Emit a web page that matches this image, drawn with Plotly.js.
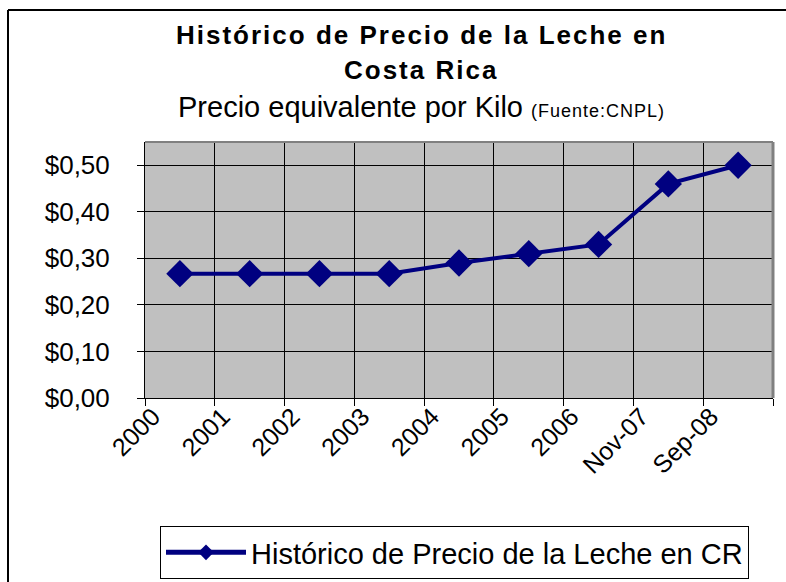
<!DOCTYPE html>
<html>
<head>
<meta charset="utf-8">
<script src="https://cdn.plot.ly/plotly-3.0.1.min.js"></script>
<style>
  html, body { margin: 0; padding: 0; background: #fff; }
  #chart { width: 786px; height: 582px; }
  .annotation-text tspan[style*="bold"] { letter-spacing: 2px; }
  .annotation-text tspan[style*="font-size:18px"] { letter-spacing: 1px; }
</style>
</head>
<body>
<div id="chart"></div>
<script>
const categories = ["2000", "2001", "2002", "2003", "2004", "2005", "2006", "Nov-07", "Sep-08"];
const precio = [0.267, 0.267, 0.267, 0.267, 0.29, 0.31, 0.33, 0.46, 0.50];
const seriesName = "Histórico de Precio de la Leche en CR";
const yTicks = [0, 0.1, 0.2, 0.3, 0.4, 0.5];
const yTickLabels = ["$0,00", "$0,10", "$0,20", "$0,30", "$0,40", "$0,50"];
const titleLine1 = "Histórico de Precio de la Leche en";
const titleLine2 = "Costa Rica";
const subtitle = "Precio equivalente por Kilo";
const source = "(Fuente:CNPL)";

const trace = {
  type: "scatter",
  mode: "lines+markers",
  x: categories,
  y: precio,
  name: seriesName,
  line: { color: "#000080", width: 4 },
  marker: { symbol: "diamond", size: 21, color: "#000080" }
};

const L = 145, R = 13, T = 142, B = 184;
const W = 786 - L - R, H = 582 - T - B;
const px = v => (v - L) / W;
const py = v => (582 - B - v) / H;
const FONT = "Arial, 'Liberation Sans', sans-serif";

const layout = {
  width: 786, height: 582,
  margin: { l: L, r: R, t: T, b: B, autoexpand: false },
  paper_bgcolor: "#ffffff",
  plot_bgcolor: "#C0C0C0",
  font: { family: FONT, color: "#000" },
  xaxis: {
    type: "category",
    categoryorder: "array", categoryarray: categories,
    range: [-0.5, categories.length - 0.5],
    tickson: "boundaries",
    ticks: "outside", ticklen: 7, tickcolor: "#000", tickwidth: 1,
    showgrid: true, gridcolor: "#000", gridwidth: 1,
    showline: true, linecolor: "#000", linewidth: 1,
    tickangle: -45,
    ticklabelshift: -27,
    ticklabelstandoff: -7,
    tickfont: { size: 25, color: "#000" },
    zeroline: false, automargin: false
  },
  yaxis: {
    range: [0, 0.55],
    tickvals: yTicks,
    ticktext: yTickLabels,
    ticks: "outside", ticklen: 7, tickcolor: "#000", tickwidth: 1,
    ticklabelstandoff: 22,
    showgrid: true, gridcolor: "#000", gridwidth: 1,
    showline: true, linecolor: "#000", linewidth: 1,
    zeroline: false, automargin: false,
    tickfont: { size: 26, color: "#000" }
  },
  showlegend: true,
  legend: {
    orientation: "h",
    xref: "container", yref: "container",
    x: 160 / 786, xanchor: "left",
    y: 1 - 579 / 582, yanchor: "bottom",
    bgcolor: "#fff", bordercolor: "#000", borderwidth: 1,
    font: { size: 29, color: "#000" },
    itemsizing: "constant",
    itemwidth: 80
  },
  annotations: [
    { text: "<b>" + titleLine1 + "</b>", xref: "paper", yref: "paper", x: px(421), y: py(35), xanchor: "center", yanchor: "middle", showarrow: false, font: { size: 26, family: FONT, color: "#000" } },
    { text: "<b>" + titleLine2 + "</b>", xref: "paper", yref: "paper", x: px(421), y: py(70), xanchor: "center", yanchor: "middle", showarrow: false, font: { size: 26, family: FONT, color: "#000" } },
    { text: subtitle + " <span style='font-size:18px'>" + source + "</span>", xref: "paper", yref: "paper", x: px(421), y: py(107), xanchor: "center", yanchor: "middle", showarrow: false, font: { size: 29, family: FONT, color: "#000" } }
  ],
  shapes: [
    { type: "line", xref: "paper", yref: "paper", x0: 0, x1: 1, y0: 1, y1: 1, line: { color: "#808080", width: 2 } },
    { type: "line", xref: "paper", yref: "paper", x0: 1, x1: 1, y0: 0, y1: 1, line: { color: "#808080", width: 3 } },
    { type: "line", xref: "paper", yref: "paper", x0: px(8), x1: px(800), y0: py(10), y1: py(10), line: { color: "#000", width: 2 } },
    { type: "line", xref: "paper", yref: "paper", x0: px(8), x1: px(8), y0: py(10), y1: py(600), line: { color: "#000", width: 2 } }
  ]
};

Plotly.newPlot("chart", [trace], layout, { displayModeBar: false, staticPlot: true });
</script>
</body>
</html>
